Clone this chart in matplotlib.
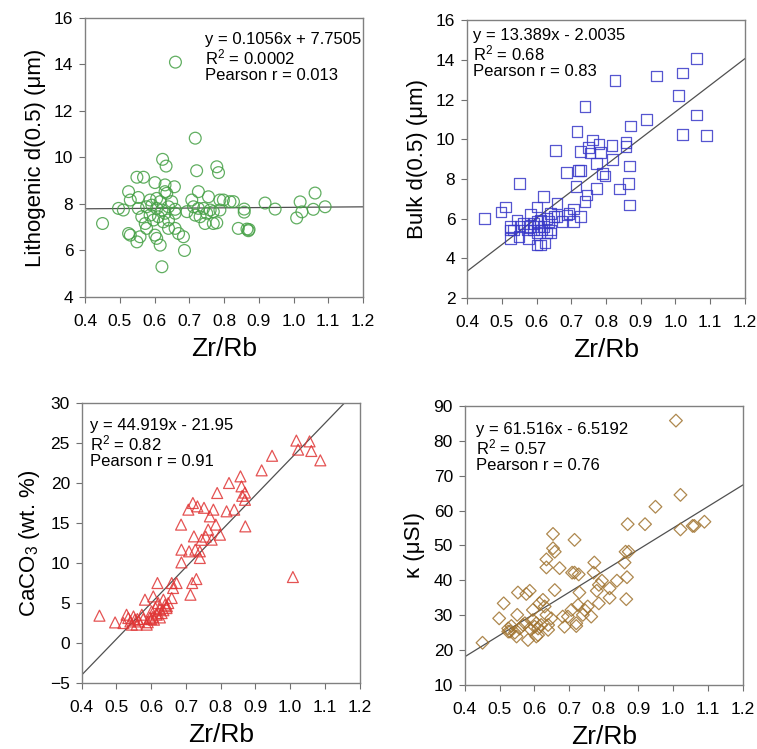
import numpy as np
import matplotlib
matplotlib.use("Agg")
import matplotlib.pyplot as plt

plt.rcParams['font.family'] = ['Liberation Sans', 'DejaVu Sans']
plt.rcParams['mathtext.fontset'] = 'custom'
plt.rcParams['mathtext.rm'] = 'Liberation Sans'
plt.rcParams['mathtext.it'] = 'Liberation Sans:italic'
plt.rcParams['mathtext.default'] = 'regular'

# ---------------- data ----------------
litho_x = [0.45, 0.496, 0.51, 0.525, 0.53, 0.525, 0.53, 0.549, 0.553, 0.549, 0.568, 0.558,
           0.553, 0.577, 0.563, 0.573, 0.577, 0.587, 0.592, 0.587, 0.597, 0.601, 0.606, 0.606,
           0.601, 0.606, 0.611, 0.616, 0.616, 0.621, 0.623, 0.633, 0.63, 0.63, 0.635, 0.625,
           0.64, 0.63, 0.64, 0.621, 0.649, 0.657, 0.659, 0.659, 0.66, 0.669, 0.683, 0.686,
           0.693, 0.707, 0.712, 0.717, 0.717, 0.721, 0.726, 0.726, 0.731, 0.741, 0.745, 0.75,
           0.755, 0.76, 0.769, 0.769, 0.779, 0.784, 0.788, 0.779, 0.788, 0.798, 0.817, 0.827,
           0.841, 0.858, 0.858, 0.866, 0.87, 0.872, 0.918, 0.947, 1.009, 1.019, 1.024, 1.057,
           1.062, 1.091, 0.64, 0.659]
litho_y = [7.16, 7.81, 7.74, 8.53, 8.17, 6.73, 6.66, 6.37, 8.28, 9.15, 9.15, 6.59,
           7.81, 7.88, 7.45, 7.16, 6.95, 8.17, 7.95, 7.52, 7.31, 8.92, 8.24, 7.81,
           6.66, 6.52, 7.45, 8.1, 6.23, 7.74, 9.92, 9.63, 8.82, 8.53, 8.46, 7.23,
           7.88, 7.6, 7.31, 5.3, 8.1, 8.74, 7.77, 7.6, 14.1, 6.73, 6.59, 6.0,
           7.67, 8.17, 7.88, 10.83, 7.52, 9.43, 8.53, 7.81, 7.45, 7.81, 7.16, 7.6,
           8.31, 7.74, 7.67, 7.16, 9.6, 9.35, 8.17, 7.19, 7.74, 8.17, 8.1, 8.1,
           6.95, 7.78, 7.65, 6.92, 6.85, 6.9, 8.04, 7.78, 7.4, 8.09, 7.66, 7.77,
           8.47, 7.88, 6.95, 6.95]

bulk_x = [0.451, 0.498, 0.51, 0.525, 0.525, 0.525, 0.544, 0.549, 0.551, 0.553, 0.563, 0.572,
          0.577, 0.582, 0.592, 0.601, 0.601, 0.601, 0.601, 0.611, 0.62, 0.611, 0.62, 0.625,
          0.63, 0.635, 0.64, 0.64, 0.654, 0.659, 0.659, 0.673, 0.688, 0.693, 0.686, 0.707,
          0.707, 0.714, 0.721, 0.726, 0.716, 0.726, 0.726, 0.74, 0.74, 0.745, 0.75, 0.754,
          0.761, 0.772, 0.772, 0.78, 0.785, 0.79, 0.797, 0.817, 0.819, 0.826, 0.839, 0.858,
          0.858, 0.865, 0.868, 0.868, 0.871, 0.917, 0.946, 1.008, 1.02, 1.02, 1.06, 1.06,
          1.09, 0.534, 0.592, 0.606, 0.64, 0.65, 0.615, 0.58, 0.63]
bulk_y = [6.02, 6.33, 6.6, 5.6, 5.44, 5.0, 5.94, 5.1, 7.78, 5.6, 5.77, 5.44,
          5.0, 6.2, 5.77, 5.85, 6.6, 5.27, 4.68, 4.68, 7.11, 5.94, 5.6, 4.77,
          5.27, 5.85, 6.27, 5.44, 9.43, 6.78, 6.1, 5.85, 6.18, 6.27, 8.32, 6.48,
          5.85, 7.62, 8.42, 8.42, 10.38, 9.38, 6.1, 11.64, 6.86, 7.2, 9.6, 9.3,
          9.96, 8.79, 7.53, 9.76, 9.33, 8.29, 8.15, 9.68, 8.99, 12.95, 7.5, 9.83,
          9.63, 7.78, 8.66, 6.69, 10.67, 10.99, 13.18, 12.21, 13.35, 10.25, 11.22, 14.07,
          10.18, 5.44, 5.44, 5.6, 5.27, 6.1, 5.44, 5.6, 6.0]

caco3_x = [0.451, 0.496, 0.529, 0.534, 0.52, 0.544, 0.549, 0.553, 0.558, 0.573, 0.577, 0.582,
           0.587, 0.596, 0.601, 0.606, 0.608, 0.616, 0.618, 0.62, 0.625, 0.63, 0.635, 0.64,
           0.644, 0.649, 0.659, 0.663, 0.659, 0.673, 0.686, 0.687, 0.687, 0.707, 0.709, 0.713,
           0.718, 0.72, 0.723, 0.727, 0.73, 0.733, 0.74, 0.74, 0.745, 0.752, 0.757, 0.764,
           0.769, 0.774, 0.779, 0.786, 0.79, 0.798, 0.817, 0.824, 0.839, 0.857, 0.86, 0.862,
           0.87, 0.87, 0.871, 0.918, 0.948, 1.008, 1.018, 1.023, 1.056, 1.061, 1.087,
           0.565, 0.59, 0.605, 0.612, 0.625, 0.635, 0.645, 0.6, 0.615, 0.54, 0.56]
caco3_y = [3.42, 2.58, 3.54, 3.13, 2.5, 2.3, 3.33, 2.92, 2.3, 3.54, 3.0, 5.42,
           2.3, 3.13, 3.96, 5.83, 2.92, 3.54, 7.5, 5.0, 4.25, 3.75, 5.42, 4.79,
           4.37, 5.0, 7.5, 6.88, 5.63, 7.5, 14.8, 11.67, 10.08, 16.67, 11.46, 6.04,
           7.5, 17.5, 13.33, 11.67, 8.0, 17.08, 10.63, 11.46, 12.9, 16.9, 13.3, 14.17,
           15.83, 12.92, 16.67, 14.8, 18.75, 13.54, 16.46, 20.0, 16.67, 20.83, 19.58, 18.4,
           17.9, 18.8, 14.58, 21.58, 23.4, 8.25, 25.3, 24.17, 25.2, 24.0, 22.83,
           2.7, 2.6, 3.3, 4.4, 3.2, 4.1, 4.6, 3.0, 3.7, 2.7, 3.0]

kappa_x = [0.451, 0.499, 0.512, 0.525, 0.525, 0.53, 0.534, 0.544, 0.549, 0.551, 0.553, 0.558,
           0.568, 0.573, 0.577, 0.587, 0.582, 0.587, 0.596, 0.596, 0.601, 0.606, 0.611, 0.606,
           0.611, 0.62, 0.615, 0.625, 0.63, 0.635, 0.64, 0.635, 0.635, 0.64, 0.649, 0.654,
           0.654, 0.659, 0.659, 0.673, 0.682, 0.687, 0.697, 0.707, 0.709, 0.716, 0.716, 0.721,
           0.721, 0.726, 0.73, 0.728, 0.74, 0.745, 0.754, 0.764, 0.771, 0.773, 0.78, 0.786,
           0.786, 0.795, 0.817, 0.817, 0.838, 0.86, 0.863, 0.865, 0.867, 0.872, 0.869, 0.919,
           0.949, 1.008, 1.021, 1.021, 1.056, 1.061, 1.09]
kappa_y = [22.1, 29.1, 33.4, 26.2, 25.3, 25.3, 26.9, 25.0, 23.9, 30.1, 36.5, 26.2,
           27.2, 27.7, 36.1, 37.0, 22.9, 26.2, 31.5, 28.6, 26.7, 23.9, 24.3, 27.7,
           26.2, 27.2, 33.4, 34.4, 32.5, 30.1, 27.2, 46.0, 43.7, 25.8, 29.1, 53.3,
           49.2, 48.2, 37.2, 43.5, 29.6, 26.7, 29.6, 31.5, 42.2, 51.6, 42.2, 27.7,
           26.9, 32.9, 36.5, 41.7, 30.1, 31.5, 32.5, 29.6, 42.2, 45.1, 37.0, 38.7,
           33.4, 39.9, 37.7, 35.0, 39.9, 45.1, 48.2, 34.6, 40.9, 48.2, 56.1, 56.1,
           61.1, 85.8, 64.5, 54.6, 55.6, 55.6, 56.8]

slopes = [0.1056, 13.389, 44.919, 61.516]
intercepts = [7.7505, -2.0035, -21.95, -6.5192]
eq_texts = ["y = 0.1056x + 7.7505\nR$^2$ = 0.0002\nPearson r = 0.013",
            "y = 13.389x - 2.0035\nR$^2$ = 0.68\nPearson r = 0.83",
            "y = 44.919x - 21.95\nR$^2$ = 0.82\nPearson r = 0.91",
            "y = 61.516x - 6.5192\nR$^2$ = 0.57\nPearson r = 0.76"]
y_labels = ["Lithogenic d(0.5) (μm)", "Bulk d(0.5) (μm)", "CaCO$_3$ (wt. %)", "κ (μSI)"]
x_label = "Zr/Rb"
x_ticks = [0.4, 0.5, 0.6, 0.7, 0.8, 0.9, 1.0, 1.1, 1.2]
y_ticks = [[4, 6, 8, 10, 12, 14, 16], [2, 4, 6, 8, 10, 12, 14, 16],
           [-5, 0, 5, 10, 15, 20, 25, 30], [10, 20, 30, 40, 50, 60, 70, 80, 90]]

# ---------------- figure ----------------
fig = plt.figure(figsize=(7.57, 7.49), dpi=100)
rects = [[0.1125, 0.6035, 0.367, 0.3725],
         [0.617, 0.602, 0.367, 0.371],
         [0.108, 0.088, 0.367, 0.374],
         [0.614, 0.0855, 0.367, 0.3725]]
xs = [litho_x, bulk_x, caco3_x, kappa_x]
ys = [litho_y, bulk_y, caco3_y, kappa_y]
markers = ['o', 's', '^', 'D']
sizes = [72, 58, 62, 42]
colors = ['#45a045', '#3838c8', '#e03535', '#a0732f']
text_pos = [(0.43, 0.95), (0.022, 0.972), (0.029, 0.946), (0.04, 0.944)]

for i in range(4):
    ax = fig.add_axes(rects[i])
    ax.scatter(xs[i], ys[i], marker=markers[i], s=sizes[i], facecolors='none',
               edgecolors=colors[i], linewidths=0.9, alpha=0.85, zorder=3)
    lx = np.array([0.4, 1.2])
    ax.plot(lx, slopes[i] * lx + intercepts[i], color='#505050', lw=0.9, zorder=2)
    ax.set_xlim(0.4, 1.2)
    ax.set_ylim(y_ticks[i][0], y_ticks[i][-1])
    ax.set_xticks(x_ticks)
    ax.set_xticklabels(["%.1f" % v for v in x_ticks])
    ax.set_yticks(y_ticks[i])
    ax.tick_params(direction='out', length=4, width=0.8, color='#707070',
                   labelsize=12.5)
    ax.tick_params(axis='x', pad=8)
    ax.tick_params(axis='y', pad=4.5)
    for s in ax.spines.values():
        s.set_color('#808080')
        s.set_linewidth(1.0)
    ax.set_xlabel(x_label, fontsize=19, labelpad=6)
    ax.set_ylabel(y_labels[i], fontsize=16, labelpad=6)
    ax.text(text_pos[i][0], text_pos[i][1], eq_texts[i], transform=ax.transAxes,
            fontsize=12, va='top', ha='left', linespacing=1.05)

fig.savefig("out.png", dpi=100)
